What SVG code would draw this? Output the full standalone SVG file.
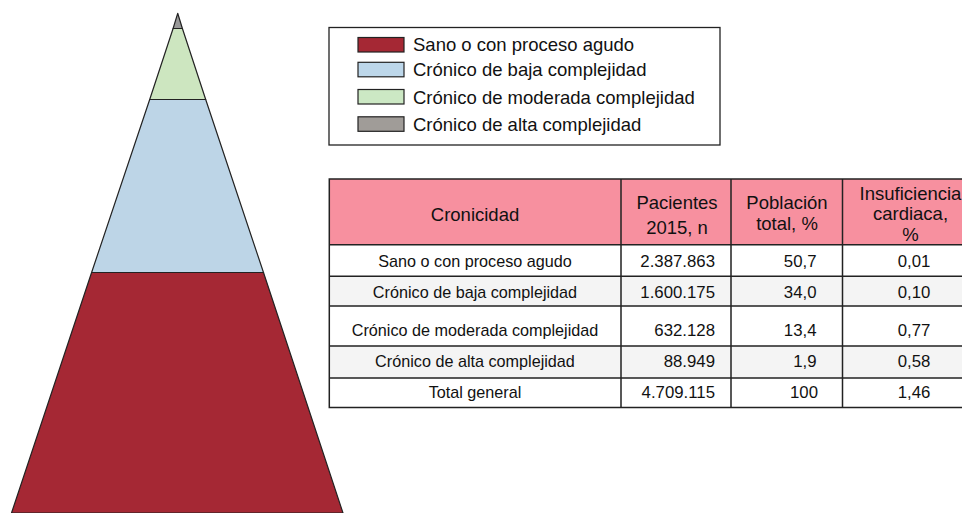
<svg xmlns="http://www.w3.org/2000/svg" width="962" height="513" viewBox="0 0 962 513">
<style>
.pz{stroke:#222;stroke-width:1.2;stroke-linejoin:round}
.sw{stroke:#222;stroke-width:1.2}
.lg{font-family:"Liberation Sans",Arial,sans-serif;font-size:18.5px;fill:#111}
.hd{font-family:"Liberation Sans",Arial,sans-serif;font-size:18.5px;fill:#111;text-anchor:middle}
.bd{font-family:"Liberation Sans",Arial,sans-serif;font-size:16.2px;fill:#111}
.n{font-size:16.8px}
.c{text-anchor:middle}
.r{text-anchor:end}
.gl{stroke:#222;stroke-width:1.5;fill:none}
</style>
<rect width="962" height="513" fill="#ffffff"/>
<g id="pyramid">
<polygon class="pz" points="91.6,272.5 263.5,272.5 343,513 11.5,513" fill="#a52834"/>
<polygon class="pz" points="149.7,99.5 205.7,99.5 263.5,272.5 91.6,272.5" fill="#bdd5e7"/>
<polygon class="pz" points="173.1,28.5 182.4,28.5 205.7,99.5 149.7,99.5" fill="#cde6c0"/>
<polygon class="pz" points="177.7,13.3 182.4,28.5 173.1,28.5" fill="#999999"/>
</g>
<g id="legend">
<rect x="329" y="27.5" width="391" height="117.5" fill="#ffffff" stroke="#222" stroke-width="1.3"/>
<rect class="sw" x="358" y="37.5" width="46" height="14.5" fill="#a52834"/>
<rect class="sw" x="358" y="62.3" width="46" height="14.5" fill="#bdd7ea"/>
<rect class="sw" x="358" y="89.5" width="46" height="14.5" fill="#cce8c4"/>
<rect class="sw" x="358" y="116.8" width="46" height="14.5" fill="#a09c98"/>
<text class="lg" x="413" y="51">Sano o con proceso agudo</text>
<text class="lg" x="413" y="76">Crónico de baja complejidad</text>
<text class="lg" x="413" y="103.5">Crónico de moderada complejidad</text>
<text class="lg" x="413" y="130.5">Crónico de alta complejidad</text>
</g>
<g id="table">
<rect x="329.3" y="179" width="640" height="65.7" fill="#f7909f"/>
<rect x="329.3" y="244.7" width="640" height="31.6" fill="#ffffff"/>
<rect x="329.3" y="276.3" width="640" height="29.7" fill="#f4f4f4"/>
<rect x="329.3" y="306" width="640" height="40" fill="#ffffff"/>
<rect x="329.3" y="346" width="640" height="32" fill="#f4f4f4"/>
<rect x="329.3" y="378" width="640" height="29.5" fill="#ffffff"/>
<path class="gl" d="M969,179H329.3V407.5H969M329.3,244.7H969M329.3,276.3H969M329.3,306H969M329.3,346H969M329.3,378H969M621,179V407.5M731,179V407.5M842.5,179V407.5"/>
<text class="hd" x="475" y="221">Cronicidad</text>
<text class="hd" x="677" y="208.5">Pacientes</text>
<text class="hd" x="677" y="233.5">2015, n</text>
<text class="hd" x="787" y="208.5">Población</text>
<text class="hd" x="787" y="229.5">total, %</text>
<text class="hd" x="910.5" y="199.5">Insuficiencia</text>
<text class="hd" x="910.5" y="220">cardiaca,</text>
<text class="hd" x="910.5" y="240.5">%</text>
<text class="bd c" x="475" y="267">Sano o con proceso agudo</text>
<text class="bd c" x="475" y="298">Crónico de baja complejidad</text>
<text class="bd c" x="475" y="335.5">Crónico de moderada complejidad</text>
<text class="bd c" x="475" y="366.5">Crónico de alta complejidad</text>
<text class="bd c" x="475" y="398">Total general</text>
<text class="bd n r" x="715" y="267">2.387.863</text>
<text class="bd n r" x="715" y="298">1.600.175</text>
<text class="bd n r" x="715" y="335.5">632.128</text>
<text class="bd n r" x="715" y="366.5">88.949</text>
<text class="bd n r" x="715" y="398">4.709.115</text>
<text class="bd n r" x="816.5" y="267">50,7</text>
<text class="bd n r" x="816.5" y="298">34,0</text>
<text class="bd n r" x="816.5" y="335.5">13,4</text>
<text class="bd n r" x="816.5" y="366.5">1,9</text>
<text class="bd n c" x="804" y="398">100</text>
<text class="bd n c" x="914" y="267">0,01</text>
<text class="bd n c" x="914" y="298">0,10</text>
<text class="bd n c" x="914" y="335.5">0,77</text>
<text class="bd n c" x="914" y="366.5">0,58</text>
<text class="bd n c" x="914" y="398">1,46</text>
</g>
</svg>
